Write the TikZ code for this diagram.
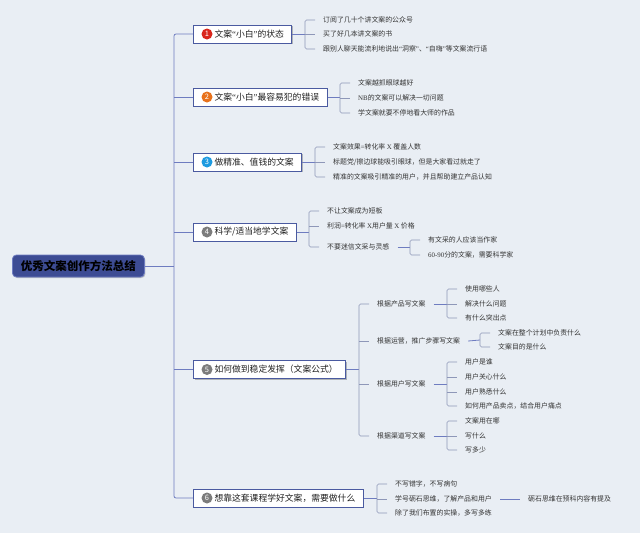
\documentclass[tikz,border=0pt]{standalone}
\usepackage{fontspec}
\setmainfont{Noto Sans CJK SC}
\newfontfamily\latf{Liberation Serif}
\newcommand{\lat}[1]{{\latf #1}}
\usetikzlibrary{shadows}
\definecolor{bgc}{HTML}{E9EEF4}
\definecolor{mainc}{HTML}{6E7CC0}
\definecolor{brkc}{HTML}{8E97B8}
\definecolor{boxc}{HTML}{4A5AA0}
\definecolor{rootc}{HTML}{3D4C94}
\definecolor{txt}{HTML}{222222}
\definecolor{leaftxt}{HTML}{333333}
\definecolor{bred}{HTML}{D9261C}
\definecolor{borange}{HTML}{E8721C}
\definecolor{bblue}{HTML}{1E9BE0}
\definecolor{bgray}{HTML}{7C7C7C}
\tikzset{
  main/.style={draw=mainc, line width=0.8pt},
  brk/.style={draw=brkc, line width=0.6pt, rounded corners=1.5pt},
  box/.style={draw=boxc, line width=1pt, fill=white, anchor=west, minimum height=18pt,
    inner xsep=0pt, inner ysep=0pt, font=\fontsize{8.8}{9}\selectfont, text=txt,
    drop shadow={shadow xshift=1pt, shadow yshift=-1pt, opacity=0.25, fill=black}},
  leaf/.style={anchor=west, inner sep=0pt, font=\fontsize{6.9}{7}\selectfont, text=leaftxt},
  badge/.style={circle, minimum size=11pt, inner sep=0pt, text=white, font=\fontsize{7.5}{8}\selectfont},
  rootbox/.style={draw=mainc, line width=0.8pt, fill=rootc, rounded corners=4pt, anchor=west,
    minimum width=132pt, minimum height=22pt, text=black, font=\fontsize{11.5}{12}\selectfont\bfseries,
    drop shadow={shadow xshift=1pt, shadow yshift=-1pt, opacity=0.2, fill=black}}
}
\newcommand{\bx}[1]{\kern21pt#1\kern8pt}
\begin{document}
\begin{tikzpicture}[x=1pt,y=-1pt]
\fill[bgc] (0,0) rectangle (640,533);
\useasboundingbox (0,0) rectangle (640,533);

% root
\node[rootbox] (root) at (12,266) {优秀文案创作方法总结};
\coordinate (tr) at (174,266);

% main boxes
\node[box] (b1) at (193,34) {\bx{文案\lat{“}小白\lat{”}的状态}};
\node[box] (b2) at (193,97) {\bx{文案\lat{“}小白\lat{”}最容易犯的错误}};
\node[box] (b3) at (193,162) {\bx{做精准、值钱的文案}};
\node[box] (b4) at (193,232) {\bx{科学/适当地学文案}};
\node[box] (b5) at (193,369.5) {\bx{如何做到稳定发挥（文案公式）}};
\node[box] (b6) at (193,498) {\bx{想靠这套课程学好文案，需要做什么}};

\node[badge, fill=bred] (g1) at (207,34) {1};
\node[badge, fill=borange] (g2) at (207,97) {2};
\node[badge, fill=bblue] (g3) at (207,162) {3};
\node[badge, fill=bgray] (g4) at (207,232) {4};
\node[badge, fill=bgray] (g5) at (207,369.5) {5};
\node[badge, fill=bgray] (g6) at (207,498) {6};

% trunk
\draw[main] (root.east) -- (tr);
\draw[main, rounded corners=2pt] (b1.west) -| (tr) |- (b6.west);
\foreach \b in {b2,b3,b4,b5} \draw[main] (tr |- \b.west) -- (\b.west);

% branch 1
\coordinate (s1) at (305,34);
\node[leaf] (a11) at (323,20) {订阅了几十个讲文案的公众号};
\node[leaf] (a12) at (323,34) {买了好几本讲文案的书};
\node[leaf] (a13) at (323,49) {跟别人聊天能流利地说出\lat{“}洞察\lat{”}、\lat{“}自嗨\lat{”}等文案流行语};
\draw[main] (b1.east) -- (s1);
\draw[brk] ([xshift=-8pt]a11.west) -| (s1) |- ([xshift=-8pt]a13.west);
\draw[brk] (s1 |- a12.west) -- ([xshift=-8pt]a12.west);

% branch 2
\coordinate (s2) at (340,97);
\node[leaf] (a21) at (358,83) {文案越抓眼球越好};
\node[leaf] (a22) at (358,98) {\lat{NB}的文案可以解决一切问题};
\node[leaf] (a23) at (358,113) {学文案就要不停地看大师的作品};
\draw[main] (b2.east) -- (s2);
\draw[brk] ([xshift=-8pt]a21.west) -| (s2) |- ([xshift=-8pt]a23.west);
\draw[brk] (s2 |- a22.west) -- ([xshift=-8pt]a22.west);

% branch 3
\coordinate (s3) at (315,162);
\node[leaf] (a31) at (333,147) {文案效果\lat{=}转化率 \lat{X} 覆盖人数};
\node[leaf] (a32) at (333,162) {标题党/擦边球能吸引眼球，但是大家看过就走了};
\node[leaf] (a33) at (333,177) {精准的文案吸引精准的用户，并且帮助建立产品认知};
\draw[main] (b3.east) -- (s3);
\draw[brk] ([xshift=-8pt]a31.west) -| (s3) |- ([xshift=-8pt]a33.west);
\draw[brk] (s3 |- a32.west) -- ([xshift=-8pt]a32.west);

% branch 4
\coordinate (s4) at (309,232);
\node[leaf] (a41) at (327,211) {不让文案成为短板};
\node[leaf] (a42) at (327,226) {利润\lat{=}转化率 \lat{X}用户量 \lat{X} 价格};
\node[leaf] (a43) at (327,247) {不要迷信文采与灵感};
\draw[main] (b4.east) -- (s4);
\draw[brk] ([xshift=-8pt]a41.west) -| (s4) |- ([xshift=-8pt]a43.west);
\draw[brk] (s4 |- a42.west) -- ([xshift=-8pt]a42.west);
\coordinate (s43) at (410,247);
\node[leaf] (a431) at (428,240) {有文采的人应该当作家};
\node[leaf] (a432) at (428,255) {\lat{60-90}分的文案，需要科学家};
\draw[main] ([xshift=8pt]a43.east) -- (s43);
\draw[brk] ([xshift=-8pt]a431.west) -| (s43) |- ([xshift=-8pt]a432.west);

% branch 5
\coordinate (s5) at (359,369.5);
\node[leaf] (c1) at (377,304) {根据产品写文案};
\node[leaf] (c2) at (377,341) {根据运营，推广步骤写文案};
\node[leaf] (c3) at (377,384) {根据用户写文案};
\node[leaf] (c4) at (377,436) {根据渠道写文案};
\draw[main] (b5.east) -- (s5);
\draw[brk] ([xshift=-8pt]c1.west) -| (s5) |- ([xshift=-8pt]c4.west);
\draw[brk] (s5 |- c2.west) -- ([xshift=-8pt]c2.west);
\draw[brk] (s5 |- c3.west) -- ([xshift=-8pt]c3.west);

\coordinate (s51) at (447,304);
\node[leaf] (d11) at (465,289) {使用哪些人};
\node[leaf] (d12) at (465,304) {解决什么问题};
\node[leaf] (d13) at (465,318) {有什么突出点};
\draw[main] ([xshift=8pt]c1.east) -- (s51);
\draw[brk] ([xshift=-8pt]d11.west) -| (s51) |- ([xshift=-8pt]d13.west);
\draw[brk] (s51 |- d12.west) -- ([xshift=-8pt]d12.west);

\coordinate (s52) at (480,340);
\node[leaf] (d21) at (498,333) {文案在整个计划中负责什么};
\node[leaf] (d22) at (498,347) {文案目的是什么};
\draw[main] ([xshift=8pt]c2.east) -- (s52);
\draw[brk] ([xshift=-8pt]d21.west) -| (s52) |- ([xshift=-8pt]d22.west);

\coordinate (s53) at (447,384);
\node[leaf] (d31) at (465,362) {用户是谁};
\node[leaf] (d32) at (465,377) {用户关心什么};
\node[leaf] (d33) at (465,392) {用户熟悉什么};
\node[leaf] (d34) at (465,406) {如何用产品卖点，结合用户痛点};
\draw[main] ([xshift=8pt]c3.east) -- (s53);
\draw[brk] ([xshift=-8pt]d31.west) -| (s53) |- ([xshift=-8pt]d34.west);
\draw[brk] (s53 |- d32.west) -- ([xshift=-8pt]d32.west);
\draw[brk] (s53 |- d33.west) -- ([xshift=-8pt]d33.west);

\coordinate (s54) at (447,436);
\node[leaf] (d41) at (465,421) {文案用在哪};
\node[leaf] (d42) at (465,436) {写什么};
\node[leaf] (d43) at (465,450) {写多少};
\draw[main] ([xshift=8pt]c4.east) -- (s54);
\draw[brk] ([xshift=-8pt]d41.west) -| (s54) |- ([xshift=-8pt]d43.west);
\draw[brk] (s54 |- d42.west) -- ([xshift=-8pt]d42.west);

% branch 6
\coordinate (s6) at (377,498);
\node[leaf] (a61) at (395,484) {不写错字，不写病句};
\node[leaf] (a62) at (395,499) {学号砺石思维，了解产品和用户};
\node[leaf] (a63) at (395,513) {除了我们布置的实操，多写多练};
\draw[main] (b6.east) -- (s6);
\draw[brk] ([xshift=-8pt]a61.west) -| (s6) |- ([xshift=-8pt]a63.west);
\draw[brk] (s6 |- a62.west) -- ([xshift=-8pt]a62.west);
\node[leaf] (a621) at (528,499) {砺石思维在预科内容有提及};
\draw[main] ([xshift=8pt]a62.east) -- ([xshift=-8pt]a621.west);
\end{tikzpicture}
\end{document}
